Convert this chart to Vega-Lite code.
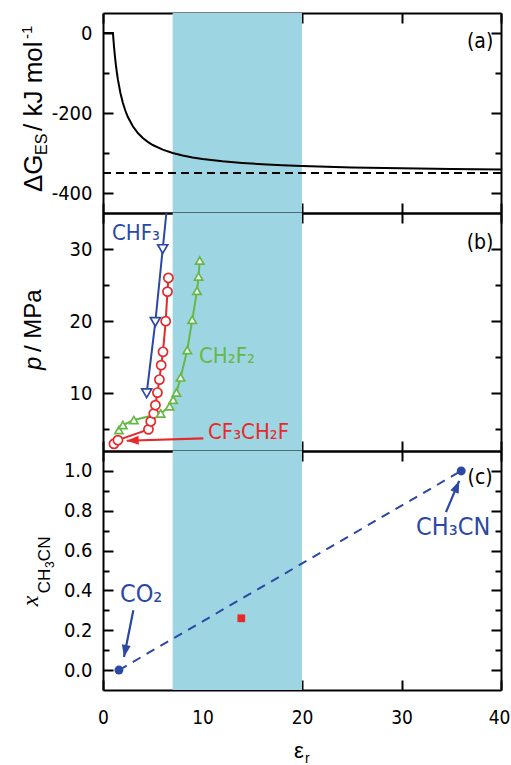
{
  "$schema": "https://vega.github.io/schema/vega-lite/v6.json",
  "background": "white",
  "padding": {"left": 18, "top": 12, "right": 0, "bottom": 0},
  "spacing": 0,
  "bounds": "flush",
  "config": {
    "view": {"stroke": null},
    "axis": {"grid": false, "domainColor": "black", "domainWidth": 2, "tickColor": "black", "tickWidth": 2, "zindex": 1,
             "labelFont": "Liberation Sans Narrow, Arial Narrow, DejaVu Sans Condensed, sans-serif", "labelFontSize": 20,
             "labelColor": "black", "labelFlush": false, "labelOverlap": false, "labelBound": false}
  },
  "vconcat": [
    {
      "width": 398, "height": 200,
      "layer": [
        {"data": {"values": [{"lo": 7, "hi": 20}]}, "mark": {"type": "rect", "color": "#9dd6e2"},
         "encoding": {"x": {"field": "lo", "type": "quantitative", "scale": {"domain": [0, 40], "nice": false, "zero": false},
                            "axis": {"orient": "bottom", "values": [0, 10, 20, 30, 40], "labels": false, "tickSize": -10, "title": null}},
                      "x2": {"field": "hi"}}},
        {"data": {"values": [
          {"eps": 0, "dG": 0}, {"eps": 1, "dG": 0}, {"eps": 1.05, "dG": -16.7}, {"eps": 1.1, "dG": -31.8}, {"eps": 1.2, "dG": -58.3},
          {"eps": 1.3, "dG": -80.8}, {"eps": 1.4, "dG": -100}, {"eps": 1.5, "dG": -116.7}, {"eps": 1.75, "dG": -150}, {"eps": 2, "dG": -175},
          {"eps": 2.25, "dG": -194.4}, {"eps": 2.5, "dG": -210}, {"eps": 3, "dG": -233.3}, {"eps": 3.5, "dG": -250}, {"eps": 4, "dG": -262.5},
          {"eps": 4.5, "dG": -272.2}, {"eps": 5, "dG": -280}, {"eps": 6, "dG": -291.7}, {"eps": 7, "dG": -300}, {"eps": 8, "dG": -306.3},
          {"eps": 9, "dG": -311.1}, {"eps": 10, "dG": -315}, {"eps": 12, "dG": -320.8}, {"eps": 14, "dG": -325}, {"eps": 16, "dG": -328.1},
          {"eps": 18, "dG": -330.6}, {"eps": 20, "dG": -332.5}, {"eps": 25, "dG": -336}, {"eps": 30, "dG": -338.3}, {"eps": 35, "dG": -340},
          {"eps": 40, "dG": -341.3}]},
         "mark": {"type": "line", "color": "black", "strokeWidth": 2},
         "encoding": {"x": {"field": "eps", "type": "quantitative", "scale": {"domain": [0, 40], "nice": false, "zero": false},
                            "axis": {"orient": "top", "values": [0, 10, 20, 30, 40], "labels": false, "tickSize": -10, "title": null}},
                      "y": {"field": "dG", "type": "quantitative", "scale": {"domain": [-450, 50], "nice": false, "zero": false},
                            "axis": {"orient": "left", "values": [-400, -300, -200, -100, 0], "title": null, "labelPadding": 21,
                                     "labelExpr": "datum.value % 200 === 0 ? (datum.value < 0 ? '-' + format(-datum.value, 'd') : '0') : ''",
                                     "tickSize": {"condition": {"test": "datum.value % 200 === 0", "value": -10}, "value": -6}}}}},
        {"data": {"values": [{"dG": -350}]}, "mark": {"type": "rule", "color": "black", "strokeWidth": 1.8, "strokeDash": [8, 5]},
         "encoding": {"y": {"field": "dG", "type": "quantitative", "scale": {"domain": [-450, 50], "nice": false, "zero": false},
                            "axis": {"orient": "right", "values": [-400, -300, -200, -100, 0], "labels": false, "title": null,
                                     "tickSize": {"condition": {"test": "datum.value % 200 === 0", "value": -10}, "value": -6}}}}},
        {"data": {"values": [{"x": 37.9, "y": -22.5, "t": "(a)"}]},
         "mark": {"type": "text", "color": "black", "font": "Liberation Sans Narrow, Arial Narrow, DejaVu Sans Condensed, sans-serif", "fontSize": 21, "align": "center", "baseline": "middle"},
         "encoding": {"x": {"field": "x", "type": "quantitative", "scale": {"domain": [0, 40]}, "axis": null},
                      "y": {"field": "y", "type": "quantitative", "scale": {"domain": [-450, 50]}, "axis": null},
                      "text": {"field": "t"}}},
        {"data": {"values": [{"x": -6.13, "y": -397.5, "t": "ΔG"}, {"x": -6.13, "y": -245, "t": "/ kJ mol"}]},
         "mark": {"type": "text", "color": "black", "font": "Liberation Sans, Arial, sans-serif", "fontSize": 26, "angle": 270, "align": "left", "baseline": "alphabetic"},
         "encoding": {"x": {"field": "x", "type": "quantitative", "scale": {"domain": [0, 40]}, "axis": null},
                      "y": {"field": "y", "type": "quantitative", "scale": {"domain": [-450, 50]}, "axis": null},
                      "text": {"field": "t"}}},
        {"data": {"values": [{"x": -5.63, "y": -305, "t": "ES"}]},
         "mark": {"type": "text", "color": "black", "font": "Liberation Sans, Arial, sans-serif", "fontSize": 16, "angle": 270, "align": "left", "baseline": "alphabetic"},
         "encoding": {"x": {"field": "x", "type": "quantitative", "scale": {"domain": [0, 40]}, "axis": null},
                      "y": {"field": "y", "type": "quantitative", "scale": {"domain": [-450, 50]}, "axis": null},
                      "text": {"field": "t"}}},
        {"data": {"values": [{"x": -7.14, "y": -15, "t": "-1"}]},
         "mark": {"type": "text", "color": "black", "font": "Liberation Sans, Arial, sans-serif", "fontSize": 15, "angle": 270, "align": "left", "baseline": "alphabetic"},
         "encoding": {"x": {"field": "x", "type": "quantitative", "scale": {"domain": [0, 40]}, "axis": null},
                      "y": {"field": "y", "type": "quantitative", "scale": {"domain": [-450, 50]}, "axis": null},
                      "text": {"field": "t"}}}
      ],
      "resolve": {"axis": {"x": "independent", "y": "independent"}}
    },
    {
      "width": 398, "height": 238,
      "layer": [
        {"data": {"values": [{"lo": 7, "hi": 20}]}, "mark": {"type": "rect", "color": "#9dd6e2"},
         "encoding": {"x": {"field": "lo", "type": "quantitative", "scale": {"domain": [0, 40], "nice": false, "zero": false},
                            "axis": {"orient": "bottom", "values": [0, 10, 20, 30, 40], "labels": false, "tickSize": -10, "title": null}},
                      "x2": {"field": "hi"}}},
        {"data": {"name": "pvals", "values": [
          {"s": "CHF3", "x": 4.39, "p": 10}, {"s": "CHF3", "x": 5.26, "p": 19.9}, {"s": "CHF3", "x": 6.0, "p": 30}, {"s": "CHF3", "x": 6.74, "p": 40},
          {"s": "CF3CH2F", "x": 1.1, "p": 3.0}, {"s": "CF3CH2F", "x": 1.5, "p": 3.5}, {"s": "CF3CH2F", "x": 4.57, "p": 5.0}, {"s": "CF3CH2F", "x": 4.8, "p": 6.1},
          {"s": "CF3CH2F", "x": 5.1, "p": 7.2}, {"s": "CF3CH2F", "x": 5.27, "p": 8.35}, {"s": "CF3CH2F", "x": 5.47, "p": 10.1}, {"s": "CF3CH2F", "x": 5.67, "p": 11.9},
          {"s": "CF3CH2F", "x": 5.85, "p": 13.9}, {"s": "CF3CH2F", "x": 6.03, "p": 15.75}, {"s": "CF3CH2F", "x": 6.3, "p": 20.0}, {"s": "CF3CH2F", "x": 6.48, "p": 24.1},
          {"s": "CF3CH2F", "x": 6.57, "p": 26.0},
          {"s": "CH2F2", "x": 1.6, "p": 4.9}, {"s": "CH2F2", "x": 2.0, "p": 5.6}, {"s": "CH2F2", "x": 3.1, "p": 6.3}, {"s": "CH2F2", "x": 5.8, "p": 7.2},
          {"s": "CH2F2", "x": 6.7, "p": 8.2}, {"s": "CH2F2", "x": 7.05, "p": 9.1}, {"s": "CH2F2", "x": 7.38, "p": 10.1}, {"s": "CH2F2", "x": 7.8, "p": 12.2},
          {"s": "CH2F2", "x": 8.47, "p": 16.0}, {"s": "CH2F2", "x": 8.97, "p": 20.2}, {"s": "CH2F2", "x": 9.45, "p": 24.2}, {"s": "CH2F2", "x": 9.6, "p": 26.2},
          {"s": "CH2F2", "x": 9.72, "p": 28.4}]},
         "mark": {"type": "line", "strokeWidth": 2, "clip": true},
         "encoding": {"x": {"field": "x", "type": "quantitative", "scale": {"domain": [0, 40], "nice": false, "zero": false},
                            "axis": {"orient": "top", "values": [0, 10, 20, 30, 40], "labels": false, "tickSize": -10, "title": null}},
                      "y": {"field": "p", "type": "quantitative", "scale": {"domain": [2, 35], "nice": false, "zero": false},
                            "axis": {"orient": "left", "values": [5, 10, 15, 20, 25, 30], "title": null, "labelPadding": 21,
                                     "labelExpr": "datum.value % 10 === 0 ? format(datum.value, 'd') : ''",
                                     "tickSize": {"condition": {"test": "datum.value % 10 === 0", "value": -10}, "value": -6}}},
                      "color": {"field": "s", "type": "nominal", "scale": {"domain": ["CHF3", "CF3CH2F", "CH2F2"], "range": ["#2b48a5", "#e8292b", "#66b845"]}, "legend": null}}},
        {"data": {"name": "pvals"},
         "mark": {"type": "point", "fill": "white", "strokeWidth": 1.7, "opacity": 1, "clip": true},
         "encoding": {"x": {"field": "x", "type": "quantitative", "scale": {"domain": [0, 40], "nice": false, "zero": false}, "axis": null},
                      "y": {"field": "p", "type": "quantitative", "scale": {"domain": [2, 35], "nice": false, "zero": false},
                            "axis": {"orient": "right", "values": [5, 10, 15, 20, 25, 30], "labels": false, "title": null,
                                     "tickSize": {"condition": {"test": "datum.value % 10 === 0", "value": -10}, "value": -6}}},
                      "stroke": {"field": "s", "type": "nominal", "scale": {"domain": ["CHF3", "CF3CH2F", "CH2F2"], "range": ["#2b48a5", "#e8292b", "#66b845"]}, "legend": null},
                      "shape": {"field": "s", "type": "nominal", "scale": {"domain": ["CHF3", "CF3CH2F", "CH2F2"], "range": ["triangle-down", "circle", "triangle-up"]}, "legend": null},
                      "size": {"field": "s", "type": "nominal", "scale": {"domain": ["CHF3", "CF3CH2F", "CH2F2"], "range": [100, 68, 90]}, "legend": null}}},
        {"data": {"values": [{"x": 10.08, "y": 3.75, "x2": 2.38, "y2": 3.42}]},
         "mark": {"type": "rule", "color": "#e8292b", "strokeWidth": 2.2},
         "encoding": {"x": {"field": "x", "type": "quantitative", "scale": {"domain": [0, 40]}, "axis": null},
                      "y": {"field": "y", "type": "quantitative", "scale": {"domain": [2, 35]}, "axis": null},
                      "x2": {"field": "x2"}, "y2": {"field": "y2"}}},
        {"data": {"values": [{"x": 2.38, "y": 3.42, "angle": 268}]},
         "mark": {"type": "point", "shape": "M0,0L-0.75,2L0.75,2Z", "filled": true, "color": "#e8292b", "size": 144, "opacity": 1},
         "encoding": {"x": {"field": "x", "type": "quantitative", "scale": {"domain": [0, 40]}, "axis": null},
                      "y": {"field": "y", "type": "quantitative", "scale": {"domain": [2, 35]}, "axis": null},
                      "angle": {"field": "angle", "type": "quantitative", "scale": null}}},
        {"data": {"values": [{"x": 0.9, "y": 32.2, "t": "CHF₃", "s": "CHF3"}, {"x": 9.65, "y": 15.2, "t": "CH₂F₂", "s": "CH2F2"}, {"x": 10.55, "y": 4.67, "t": "CF₃CH₂F", "s": "CF3CH2F"}]},
         "mark": {"type": "text", "font": "Liberation Sans Narrow, Arial Narrow, DejaVu Sans Condensed, sans-serif", "fontSize": 22, "align": "left", "baseline": "middle"},
         "encoding": {"x": {"field": "x", "type": "quantitative", "scale": {"domain": [0, 40]}, "axis": null},
                      "y": {"field": "y", "type": "quantitative", "scale": {"domain": [2, 35]}, "axis": null},
                      "text": {"field": "t"},
                      "color": {"field": "s", "type": "nominal", "scale": {"domain": ["CHF3", "CF3CH2F", "CH2F2"], "range": ["#2b48a5", "#e8292b", "#66b845"]}, "legend": null}}},
        {"data": {"values": [{"x": 37.9, "y": 30.8, "t": "(b)"}]},
         "mark": {"type": "text", "color": "black", "font": "Liberation Sans Narrow, Arial Narrow, DejaVu Sans Condensed, sans-serif", "fontSize": 21, "align": "center", "baseline": "middle"},
         "encoding": {"x": {"field": "x", "type": "quantitative", "scale": {"domain": [0, 40]}, "axis": null},
                      "y": {"field": "y", "type": "quantitative", "scale": {"domain": [2, 35]}, "axis": null},
                      "text": {"field": "t"}}},
        {"data": {"values": [{"x": -6.23, "y": 13.22, "t": "p"}]},
         "mark": {"type": "text", "color": "black", "font": "Liberation Sans, Arial, sans-serif", "fontStyle": "italic", "fontSize": 24, "angle": 270, "align": "left", "baseline": "alphabetic"},
         "encoding": {"x": {"field": "x", "type": "quantitative", "scale": {"domain": [0, 40]}, "axis": null},
                      "y": {"field": "y", "type": "quantitative", "scale": {"domain": [2, 35]}, "axis": null},
                      "text": {"field": "t"}}},
        {"data": {"values": [{"x": -6.23, "y": 15.72, "t": "/ MPa"}]},
         "mark": {"type": "text", "color": "black", "font": "Liberation Sans, Arial, sans-serif", "fontSize": 24, "angle": 270, "align": "left", "baseline": "alphabetic"},
         "encoding": {"x": {"field": "x", "type": "quantitative", "scale": {"domain": [0, 40]}, "axis": null},
                      "y": {"field": "y", "type": "quantitative", "scale": {"domain": [2, 35]}, "axis": null},
                      "text": {"field": "t"}}}
      ],
      "resolve": {"axis": {"x": "independent", "y": "independent"}}
    },
    {
      "width": 398, "height": 239,
      "layer": [
        {"data": {"values": [{"lo": 7, "hi": 20}]}, "mark": {"type": "rect", "color": "#9dd6e2"},
         "encoding": {"x": {"field": "lo", "type": "quantitative", "scale": {"domain": [0, 40], "nice": false, "zero": false},
                            "axis": {"orient": "bottom", "values": [0, 10, 20, 30, 40], "labels": true, "tickSize": -10, "title": null, "labelPadding": 28,
                                     "labelFontSize": 19,
                                     "labelOffset": {"condition": {"test": "datum.value === 40", "value": -2}, "value": 0}}},
                      "x2": {"field": "hi"}}},
        {"data": {"name": "xvals", "values": [{"eps": 1.6, "xf": 0, "m": "CO2"}, {"eps": 36, "xf": 1.0, "m": "CH3CN"}]},
         "mark": {"type": "line", "color": "#2b48a5", "strokeWidth": 2, "strokeDash": [9, 7]},
         "encoding": {"x": {"field": "eps", "type": "quantitative", "scale": {"domain": [0, 40], "nice": false, "zero": false},
                            "axis": {"orient": "top", "values": [0, 10, 20, 30, 40], "labels": false, "tickSize": -10, "title": null}},
                      "y": {"field": "xf", "type": "quantitative", "scale": {"domain": [-0.1, 1.1], "nice": false, "zero": false},
                            "axis": {"orient": "left", "values": [0, 0.1, 0.2, 0.3, 0.4, 0.5, 0.6, 0.7, 0.8, 0.9, 1.0], "title": null, "labelPadding": 21,
                                     "labelExpr": "round(datum.value * 10) % 2 === 0 ? format(datum.value, '.1f') : ''",
                                     "tickSize": {"condition": {"test": "round(datum.value * 10) % 2 === 0", "value": -10}, "value": -6}}}}},
        {"data": {"name": "xvals"},
         "mark": {"type": "point", "filled": true, "color": "#2b48a5", "size": 80, "opacity": 1},
         "encoding": {"x": {"field": "eps", "type": "quantitative", "scale": {"domain": [0, 40], "nice": false, "zero": false}, "axis": null},
                      "y": {"field": "xf", "type": "quantitative", "scale": {"domain": [-0.1, 1.1], "nice": false, "zero": false},
                            "axis": {"orient": "right", "values": [0, 0.1, 0.2, 0.3, 0.4, 0.5, 0.6, 0.7, 0.8, 0.9, 1.0], "labels": false, "title": null,
                                     "tickSize": {"condition": {"test": "round(datum.value * 10) % 2 === 0", "value": -10}, "value": -6}}}}},
        {"data": {"values": [{"eps": 13.9, "xf": 0.26}]},
         "mark": {"type": "square", "filled": true, "color": "#e8292b", "size": 60, "opacity": 1},
         "encoding": {"x": {"field": "eps", "type": "quantitative", "scale": {"domain": [0, 40]}, "axis": null},
                      "y": {"field": "xf", "type": "quantitative", "scale": {"domain": [-0.1, 1.1]}, "axis": null}}},
        {"data": {"values": [{"x": 3.05, "y": 0.30, "x2": 2.11, "y2": 0.066}, {"x": 34.47, "y": 0.793, "x2": 35.8, "y2": 0.95}]},
         "mark": {"type": "rule", "color": "#2b48a5", "strokeWidth": 2.2},
         "encoding": {"x": {"field": "x", "type": "quantitative", "scale": {"domain": [0, 40]}, "axis": null},
                      "y": {"field": "y", "type": "quantitative", "scale": {"domain": [-0.1, 1.1]}, "axis": null},
                      "x2": {"field": "x2"}, "y2": {"field": "y2"}}},
        {"data": {"values": [{"x": 2.11, "y": 0.066, "angle": 191}, {"x": 35.8, "y": 0.95, "angle": 23}]},
         "mark": {"type": "point", "shape": "M0,0L-0.75,2L0.75,2Z", "filled": true, "color": "#2b48a5", "size": 144, "opacity": 1},
         "encoding": {"x": {"field": "x", "type": "quantitative", "scale": {"domain": [0, 40]}, "axis": null},
                      "y": {"field": "y", "type": "quantitative", "scale": {"domain": [-0.1, 1.1]}, "axis": null},
                      "angle": {"field": "angle", "type": "quantitative", "scale": null}}},
        {"data": {"values": [{"x": 1.7, "y": 0.383, "t": "CO₂"}, {"x": 31.46, "y": 0.716, "t": "CH₃CN"}]},
         "mark": {"type": "text", "color": "#2b48a5", "font": "Liberation Sans Narrow, Arial Narrow, DejaVu Sans Condensed, sans-serif", "fontSize": 25, "align": "left", "baseline": "middle"},
         "encoding": {"x": {"field": "x", "type": "quantitative", "scale": {"domain": [0, 40]}, "axis": null},
                      "y": {"field": "y", "type": "quantitative", "scale": {"domain": [-0.1, 1.1]}, "axis": null},
                      "text": {"field": "t"}}},
        {"data": {"values": [{"x": 37.9, "y": 0.964, "t": "(c)"}]},
         "mark": {"type": "text", "color": "black", "font": "Liberation Sans Narrow, Arial Narrow, DejaVu Sans Condensed, sans-serif", "fontSize": 21, "align": "center", "baseline": "middle"},
         "encoding": {"x": {"field": "x", "type": "quantitative", "scale": {"domain": [0, 40]}, "axis": null},
                      "y": {"field": "y", "type": "quantitative", "scale": {"domain": [-0.1, 1.1]}, "axis": null},
                      "text": {"field": "t"}}},
        {"data": {"values": [{"x": -6.58, "y": 0.321, "t": "x"}]},
         "mark": {"type": "text", "color": "black", "font": "Liberation Serif, Times New Roman, serif", "fontStyle": "italic", "fontSize": 24, "angle": 270, "align": "left", "baseline": "alphabetic"},
         "encoding": {"x": {"field": "x", "type": "quantitative", "scale": {"domain": [0, 40]}, "axis": null},
                      "y": {"field": "y", "type": "quantitative", "scale": {"domain": [-0.1, 1.1]}, "axis": null},
                      "text": {"field": "t"}}},
        {"data": {"values": [{"x": -5.33, "y": 0.386, "t": "CH"}, {"x": -5.33, "y": 0.547, "t": "CN"}]},
         "mark": {"type": "text", "color": "black", "font": "Liberation Sans, Arial, sans-serif", "fontSize": 17, "angle": 270, "align": "left", "baseline": "alphabetic"},
         "encoding": {"x": {"field": "x", "type": "quantitative", "scale": {"domain": [0, 40]}, "axis": null},
                      "y": {"field": "y", "type": "quantitative", "scale": {"domain": [-0.1, 1.1]}, "axis": null},
                      "text": {"field": "t"}}},
        {"data": {"values": [{"x": -4.92, "y": 0.512, "t": "3"}]},
         "mark": {"type": "text", "color": "black", "font": "Liberation Sans, Arial, sans-serif", "fontSize": 12, "angle": 270, "align": "left", "baseline": "alphabetic"},
         "encoding": {"x": {"field": "x", "type": "quantitative", "scale": {"domain": [0, 40]}, "axis": null},
                      "y": {"field": "y", "type": "quantitative", "scale": {"domain": [-0.1, 1.1]}, "axis": null},
                      "text": {"field": "t"}}},
        {"data": {"values": [{"x": 19.7, "y": -0.408, "t": "ε"}]},
         "mark": {"type": "text", "color": "black", "font": "Liberation Sans, Arial, sans-serif", "fontSize": 22, "align": "center", "baseline": "middle"},
         "encoding": {"x": {"field": "x", "type": "quantitative", "scale": {"domain": [0, 40]}, "axis": null},
                      "y": {"field": "y", "type": "quantitative", "scale": {"domain": [-0.1, 1.1]}, "axis": null},
                      "text": {"field": "t"}}},
        {"data": {"values": [{"x": 20.3, "y": -0.448, "t": "r"}]},
         "mark": {"type": "text", "color": "black", "font": "Liberation Sans, Arial, sans-serif", "fontSize": 14, "align": "left", "baseline": "middle"},
         "encoding": {"x": {"field": "x", "type": "quantitative", "scale": {"domain": [0, 40]}, "axis": null},
                      "y": {"field": "y", "type": "quantitative", "scale": {"domain": [-0.1, 1.1]}, "axis": null},
                      "text": {"field": "t"}}}
      ],
      "resolve": {"axis": {"x": "independent", "y": "independent"}}
    }
  ]
}
